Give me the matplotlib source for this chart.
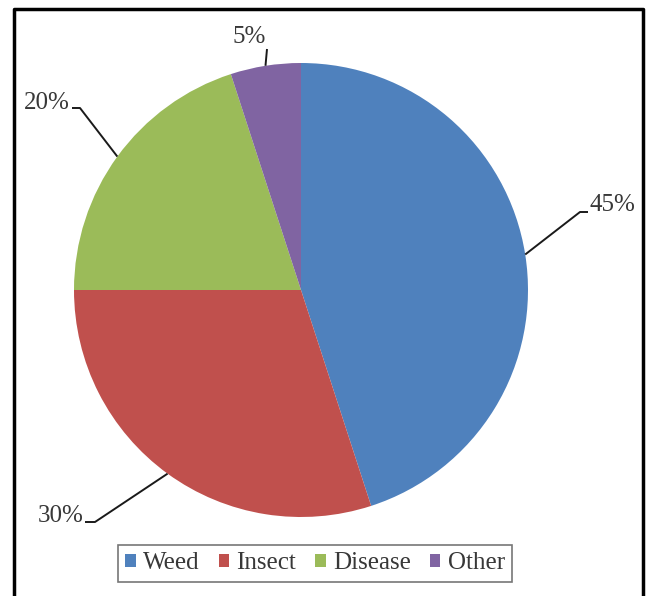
import numpy as np
import matplotlib.pyplot as plt
from matplotlib.lines import Line2D
from matplotlib.patches import Patch

categories = ['Weed', 'Insect', 'Disease', 'Other']
shares = [45, 30, 20, 5]
pct_labels = ['45%', '30%', '20%', '5%']
colors = ['#4F81BD', '#C0504D', '#9BBB59', '#8064A2']

W, H = 647, 596
cx, cy, R = 301, 290, 227  # pie centre/radius in pixels

plt.rcParams['font.family'] = ['Liberation Serif', 'DejaVu Serif']
fig = plt.figure(figsize=(W / 100, H / 100), dpi=100)
fig.patch.set_facecolor('white')

ax = fig.add_axes([0, 0, 1, 1])
wedges, _ = ax.pie(shares, colors=colors, startangle=90, counterclock=False,
                   radius=1, center=(0, 0), frame=True,
                   wedgeprops=dict(linewidth=0))
ax.set_xlim(-cx / R, (W - cx) / R)
ax.set_ylim((cy - H) / R, cy / R)
ax.axis('off')

def px(x, y):
    return ((x - cx) / R, (cy - y) / R)

# leader line elbow / end points and text positions (pixels)
leaders = [
    [(580, 212), (588, 212)],
    [(95, 522), (85, 522)],
    [(80, 108), (72, 108)],
    [(267, 49)],
]
text_pos = [(589, 205, 'left'), (84, 516, 'right'), (70, 103, 'right'), (249, 37, 'center')]

for w, pts, (tx, ty, ha), lab in zip(wedges, leaders, text_pos, pct_labels):
    mid = np.deg2rad((w.theta1 + w.theta2) / 2)
    xs = [np.cos(mid)] + [px(*p)[0] for p in pts]
    ys = [np.sin(mid)] + [px(*p)[1] for p in pts]
    ax.plot(xs, ys, color='#1a1a1a', lw=1.4, solid_capstyle='butt')
    x, y = px(tx, ty)
    ax.text(x, y, lab, ha=ha, va='center', fontsize=18, color='#383838')

handles = [Patch(facecolor=c, edgecolor='none') for c in colors]
leg = fig.legend(handles, categories, loc='center', ncol=4,
                 bbox_to_anchor=(315 / W, 1 - 563 / H), fontsize=18,
                 frameon=True, fancybox=False, edgecolor='#555555',
                 handlelength=0.42, handleheight=0.42, handletextpad=0.3,
                 columnspacing=0.75, borderpad=0.3, labelcolor='#383838')
leg.get_frame().set_linewidth(1.2)

# outer border, open at the bottom
bx = [14 / W, 14 / W, 643 / W, 643 / W]
by = [-0.05, 1 - 9 / H, 1 - 9 / H, -0.05]
fig.add_artist(Line2D(bx, by, transform=fig.transFigure, color='black', lw=2.5))

fig.savefig('out.png', dpi=100)
